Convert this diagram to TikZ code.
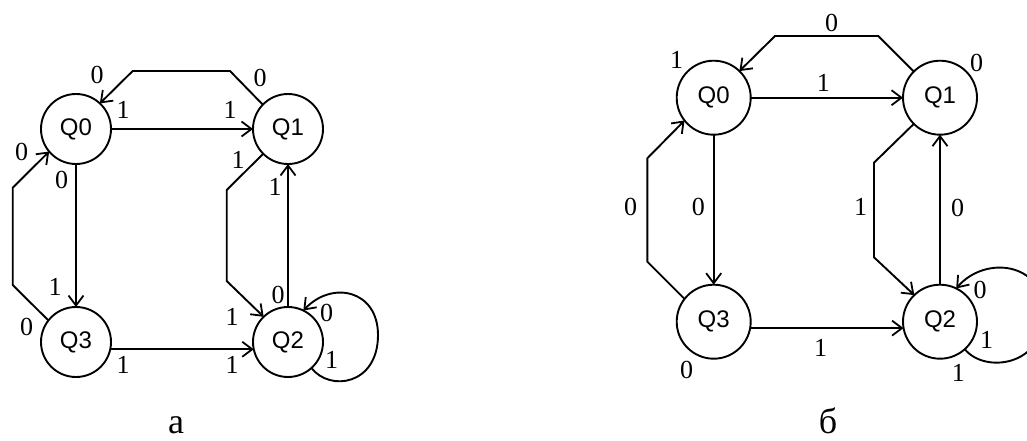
\documentclass[tikz,border=0pt]{standalone}
\usepackage{fontspec}
\setmainfont{Liberation Serif}
\newfontfamily\nodefont{Liberation Sans}
\usetikzlibrary{arrows.meta}
\tikzset{
  stateL/.style={draw, circle, line width=1.9pt, minimum size=70pt, inner sep=0pt, outer sep=0pt, font=\nodefont\fontsize{24}{24}\selectfont},
  stateR/.style={stateL, minimum size=74pt},
  edge/.style={line width=1.9pt, -{Straight Barb[length=10pt,width=15pt,line width=1.8pt]}},
  lbl/.style={inner sep=0pt, font=\fontsize{26}{26}\selectfont},
  captionlbl/.style={inner sep=0pt, anchor=base, font=\fontsize{36}{36}\selectfont}
}
\begin{document}
\begin{tikzpicture}[x=1pt,y=-1pt]
\useasboundingbox (0,0) rectangle (1027,441);
\begin{scope}
\clip (0,0) rectangle (1027,441);
% ---------------- left diagram (a) ----------------
\node[stateL] (a0) at (76,129) {Q0};
\node[stateL] (a1) at (288,129) {Q1};
\node[stateL] (a3) at (76,342) {Q3};
\node[stateL] (a2) at (288,342) {Q2};
\coordinate (a10t1) at (230,71);
\coordinate (a10t2) at (132.7,71);
\coordinate (a30l1) at (12.7,285);
\coordinate (a30l2) at (12.7,187.7);
\coordinate (a12m1) at (226.7,190);
\coordinate (a12m2) at (226.7,281);
\draw[edge] (a1.136) -- (a10t1) -- (a10t2) -- (a0.47);
\draw[edge] (a0) -- (a1);
\draw[edge] (a0) -- (a3);
\draw[edge] (a3.142) -- (a30l1) -- (a30l2) -- (a0.-140);
\draw[edge] (a3.-12) -- (a2.192);
\draw[edge] (a1.-135) -- (a12m1) -- (a12m2) -- (a2.134);
\draw[edge] (a2) -- (a1);
\draw[edge] (a2.-48) .. controls (330,392) and (378,385) .. (378,335) .. controls (378,290) and (332,280) .. (a2.64);
\node[lbl] at (97,75) {0};
\node[lbl] at (260,78) {0};
\node[lbl] at (123,110) {1};
\node[lbl] at (230,110) {1};
\node[lbl] at (61.7,180) {0};
\node[lbl] at (55,286.7) {1};
\node[lbl] at (21.7,151.7) {0};
\node[lbl] at (26.7,326.7) {0};
\node[lbl] at (123,365) {1};
\node[lbl] at (232,365) {1};
\node[lbl] at (238,160) {1};
\node[lbl] at (232,316.7) {1};
\node[lbl] at (275,186.7) {1};
\node[lbl] at (278,295) {0};
\node[lbl] at (326.7,312.7) {0};
\node[lbl] at (331.7,360) {1};
% ---------------- right diagram (b) ----------------
\node[stateR] (b0) at (713.7,97.7) {Q0};
\node[stateR] (b1) at (940,97.7) {Q1};
\node[stateR] (b3) at (713.7,321.7) {Q3};
\node[stateR] (b2) at (940,321.7) {Q2};
\coordinate (b10t1) at (878.3,36);
\coordinate (b10t2) at (775,36);
\coordinate (b30l1) at (647.3,261.7);
\coordinate (b30l2) at (647.3,158.3);
\coordinate (b12m1) at (874,162.7);
\coordinate (b12m2) at (874,257.3);
\draw[edge] (b1.135) -- (b10t1) -- (b10t2) -- (b0.46);
\draw[edge] (b0) -- (b1);
\draw[edge] (b0) -- (b3);
\draw[edge] (b3.142) -- (b30l1) -- (b30l2) -- (b0.-142);
\draw[edge] (b3.-10) -- (b2.190);
\draw[edge] (b1.-135) -- (b12m1) -- (b12m2) -- (b2.134);
\draw[edge] (b2) -- (b1);
\draw[edge] (b2.-48) .. controls (985,374) and (1044,366) .. (1044,313) .. controls (1044,262) and (985,255) .. (b2.64);
\node[lbl] at (831.7,23.3) {0};
\node[lbl] at (823.3,82.7) {1};
\node[lbl] at (698.3,206.7) {0};
\node[lbl] at (630.7,206.7) {0};
\node[lbl] at (820.7,348.3) {1};
\node[lbl] at (860.7,206.7) {1};
\node[lbl] at (957.7,208.3) {0};
\node[lbl] at (980,290) {0};
\node[lbl] at (986.7,340) {1};
\node[lbl] at (958.3,373.3) {1};
\node[lbl] at (676.7,60) {1};
\node[lbl] at (976.7,63.3) {0};
\node[lbl] at (686.7,370) {0};
\end{scope}
\node[captionlbl] (capa) at (176,433) {а};
\node[captionlbl] (capb) at (828,433) {б};
\end{tikzpicture}
\end{document}
